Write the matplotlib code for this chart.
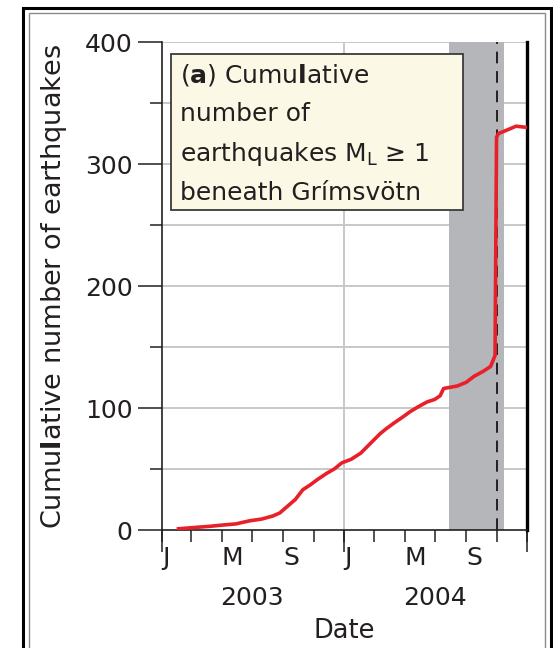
import numpy as np
import matplotlib
matplotlib.use('Agg')
import matplotlib.pyplot as plt
import matplotlib.dates as mdates
from matplotlib.patches import Rectangle
import pandas as pd

plt.rcParams['font.family'] = ['DejaVu Sans']
plt.rcParams['mathtext.fontset'] = 'dejavusans'

# cumulative count of M_L >= 1 earthquakes
dates = ['2003-02-03', '2003-03-05', '2003-04-06', '2003-05-01', '2003-05-29',
         '2003-06-25', '2003-07-20', '2003-08-11', '2003-08-25', '2003-09-08',
         '2003-09-25', '2003-10-10', '2003-10-25', '2003-11-07', '2003-11-27',
         '2003-12-12', '2003-12-27', '2004-01-15', '2004-02-03', '2004-02-20',
         '2004-03-13', '2004-03-25', '2004-04-09', '2004-04-25', '2004-05-12',
         '2004-05-28', '2004-06-15', '2004-06-30', '2004-07-11', '2004-07-18',
         '2004-08-14', '2004-09-01', '2004-09-17', '2004-10-05', '2004-10-20',
         '2004-10-29', '2004-11-01', '2004-11-05', '2004-11-23', '2004-12-10',
         '2005-01-01']
counts = [1, 2, 3, 4, 5,
          7.5, 9, 11.5, 14, 19,
          25, 33, 37, 41, 46.5,
          50, 55, 58, 63, 70,
          79, 83, 87.5, 92, 97,
          101, 105, 107, 110, 116,
          118, 121, 126, 130, 134,
          143, 322, 325, 328, 331,
          330]

shade_start = '2004-07-29'
shade_end = '2004-11-15'
eruption = '2004-11-01'

month_letters = {1: 'J', 5: 'M', 9: 'S'}
year_labels = ['2003', '2004']
year_centres = ['2003-07-01', '2004-07-01']

t = pd.to_datetime(dates)

fig = plt.figure(figsize=(5.53, 6.48), dpi=100)
ax = fig.add_axes([162/553, 1 - 530/648, 365/553, 488/648])

dark = '#231f20'

# grid first, then shading on top of it
for yv in range(50, 401, 50):
    ax.axhline(yv, color='#c8c8c8', lw=1.4, zorder=1)
ax.axvline(pd.Timestamp('2004-01-01'), color='#c8c8c8', lw=1.4, zorder=1)
ax.axvspan(pd.Timestamp(shade_start), pd.Timestamp(shade_end),
           color='#b4b6ba', lw=0, zorder=2)
ax.axvline(pd.Timestamp(eruption), color=dark, lw=1.4, ls=(0, (6, 4)), zorder=3)

ax.plot(t, counts, color='#e8202a', lw=2.6, zorder=5, solid_joinstyle='round')

ax.set_xlim(pd.Timestamp('2003-01-01'), pd.Timestamp('2005-01-01'))
ax.set_ylim(0, 400)

# spines
ax.spines['top'].set_visible(False)
ax.spines['right'].set_linewidth(2.4)
ax.spines['right'].set_color('black')
for s in ['left', 'bottom']:
    ax.spines[s].set_linewidth(1.2)
    ax.spines[s].set_color(dark)

# y ticks
ax.set_yticks(range(0, 401, 100))
ax.set_yticks(range(50, 400, 100), minor=True)
ax.tick_params(axis='y', which='major', length=17.3, width=1.1, color=dark,
               pad=4, labelsize=18, labelcolor=dark)
ax.tick_params(axis='y', which='minor', length=8.6, width=1.1, color=dark)


def month_label(v, pos):
    d = mdates.num2date(v)
    if d.year > 2004:
        return ''
    return month_letters.get(d.month, '')


# x ticks: every two months, longer ticks at January
ax.xaxis.set_major_locator(mdates.MonthLocator(bymonth=[1, 3, 5, 7, 9, 11]))
ax.xaxis.set_minor_locator(mdates.MonthLocator(bymonth=[1]))
ax.xaxis.remove_overlapping_locs = False
ax.xaxis.set_major_formatter(plt.FuncFormatter(month_label))
ax.tick_params(axis='x', which='major', length=8.6, width=1.1, color=dark,
               pad=3, labelsize=18, labelcolor=dark)
ax.tick_params(axis='x', which='minor', length=16, width=1.1, color=dark)
for lab in ax.get_xticklabels():
    lab.set_ha('left')

for yl, yc in zip(year_labels, year_centres):
    ax.text(pd.Timestamp(yc), -0.115, yl, transform=ax.get_xaxis_transform(),
            ha='center', va='top', fontsize=18, color=dark)

ax.text(0.5, -0.18, 'Date', transform=ax.transAxes, ha='center', va='top',
        fontsize=18.5, color=dark)
ax.text(-0.295, 0.5, r'Cumu$\mathbf{l}$ative number of earthquakes',
        transform=ax.transAxes, rotation=90, ha='center', va='center',
        fontsize=19.5, color=dark)

# label box
ax.add_patch(Rectangle((0.025, 0.656), 0.8, 0.32, transform=ax.transAxes,
                       facecolor='#fbf9e6', edgecolor='#3a3a3a', lw=1.3,
                       zorder=6))
box_lines = [r'($\mathbf{a}$) Cumu$\mathbf{l}$ative', 'number of',
             r'earthquakes M$_{\mathrm{L}}$ ≥ 1', 'beneath Grímsvötn']
for i, line in enumerate(box_lines):
    ypx = 82 + i * 39.3
    ax.text(0.049, (530 - ypx) / 488, line, transform=ax.transAxes,
            ha='left', va='baseline', fontsize=18, color=dark, zorder=7)

# double frame around the panel
fig.patches.append(Rectangle((23/553, -0.1), 528/553, 1.1 - 8/648,
                             transform=fig.transFigure, fill=False,
                             edgecolor='black', lw=2.2))
fig.patches.append(Rectangle((29/553, -0.1), 516/553, 1.1 - 13/648,
                             transform=fig.transFigure, fill=False,
                             edgecolor='#8a8a8a', lw=1.0))

fig.savefig('out.png', dpi=100)
